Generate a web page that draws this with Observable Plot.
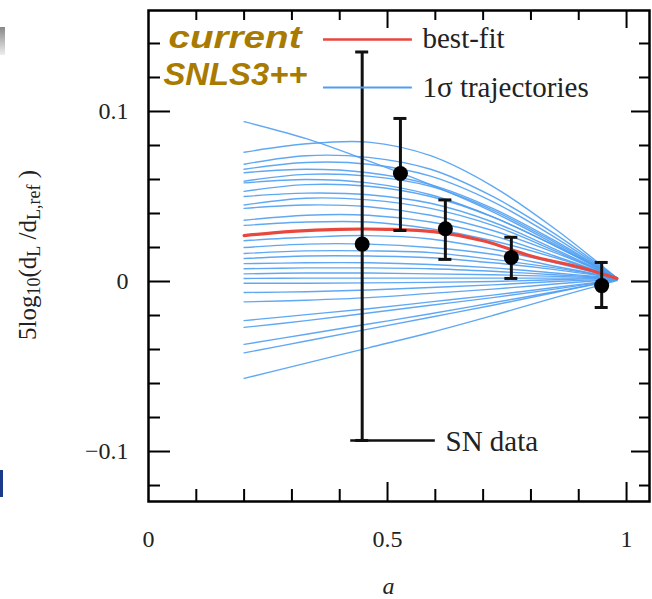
<!DOCTYPE html>
<html>
<head>
<meta charset="utf-8">
<script src="https://cdn.jsdelivr.net/npm/d3@7"></script>
<script src="https://cdn.jsdelivr.net/npm/@observablehq/plot@0.6"></script>
<style>
  html, body { margin: 0; padding: 0; background: #fff; }
  #wrap { position: relative; width: 652px; height: 599px; overflow: hidden; }
  .art1 { position: absolute; left: 0; top: 27px; width: 5px; height: 28px; background: linear-gradient(to bottom, #888, #eee); }
  .art2 { position: absolute; left: 0; top: 470px; width: 3px; height: 27px; background: #1c3a8a; }
</style>
</head>
<body>
<div id="wrap"><div class="art1"></div><div class="art2"></div></div>
<script>
// ---- data ----
const trajA = [0.2, 0.33, 0.46, 0.59, 0.72, 0.85, 0.98];
const trajectories = [
  [0.094, 0.084, 0.071, 0.057, 0.041, 0.022, 0.002],
  [0.076, 0.081, 0.082, 0.074, 0.056, 0.031, 0.002],
  [0.069, 0.074, 0.073, 0.066, 0.050, 0.028, 0.002],
  [0.066, 0.070, 0.069, 0.062, 0.047, 0.026, 0.002],
  [0.064, 0.066, 0.064, 0.057, 0.043, 0.024, 0.002],
  [0.059, 0.063, 0.062, 0.056, 0.042, 0.023, 0.002],
  [0.058, 0.060, 0.058, 0.051, 0.038, 0.021, 0.002],
  [0.053, 0.057, 0.056, 0.050, 0.038, 0.021, 0.002],
  [0.050, 0.052, 0.051, 0.046, 0.035, 0.019, 0.002],
  [0.045, 0.049, 0.048, 0.043, 0.033, 0.018, 0.002],
  [0.043, 0.045, 0.044, 0.039, 0.030, 0.017, 0.002],
  [0.036, 0.039, 0.039, 0.035, 0.027, 0.015, 0.002],
  [0.033, 0.035, 0.035, 0.031, 0.024, 0.014, 0.002],
  [0.024, 0.026, 0.027, 0.025, 0.019, 0.011, 0.002],
  [0.020, 0.022, 0.022, 0.020, 0.016, 0.009, 0.002],
  [0.0165, 0.018, 0.018, 0.017, 0.013, 0.008, 0.002],
  [0.0135, 0.015, 0.015, 0.014, 0.011, 0.007, 0.002],
  [0.0105, 0.011, 0.011, 0.010, 0.008, 0.005, 0.002],
  [0.0075, 0.008, 0.008, 0.0075, 0.006, 0.004, 0.002],
  [0.0045, 0.005, 0.005, 0.0045, 0.004, 0.003, 0.002],
  [0.0018, 0.002, 0.002, 0.002, 0.002, 0.002, 0.002],
  [-0.001, -0.001, -0.0008, -0.0005, 0.0, 0.001, 0.002],
  [-0.0065, -0.006, -0.005, -0.0035, -0.002, 0.0, 0.0015],
  [-0.012, -0.011, -0.0095, -0.007, -0.0045, -0.0015, 0.0015],
  [-0.023, -0.0195, -0.016, -0.012, -0.008, -0.0035, 0.001],
  [-0.027, -0.023, -0.0185, -0.014, -0.0095, -0.0045, 0.001],
  [-0.037, -0.031, -0.025, -0.019, -0.0125, -0.006, 0.001],
  [-0.042, -0.035, -0.028, -0.021, -0.014, -0.0065, 0.001],
  [-0.057, -0.048, -0.039, -0.030, -0.020, -0.0095, 0.0005]
];
const bestFitA = [0.2, 0.3, 0.4, 0.5, 0.6, 0.7, 0.8, 0.9, 0.98];
const bestFitY = [0.027, 0.0295, 0.0307, 0.0307, 0.0292, 0.0240, 0.0150, 0.0085, 0.0018];
const snA  = [0.447, 0.527, 0.621, 0.759, 0.948];
const snY  = [0.022, 0.0635, 0.031, 0.0141, -0.0024];
const snLo = [-0.0935, 0.030, 0.013, 0.0018, -0.0153];
const snHi = [0.135, 0.0959, 0.048, 0.026, 0.0112];
const xTickValues = [0, 0.5, 1];
const xTickLabels = ["0", "0.5", "1"];
const yTickValues = [-0.1, 0, 0.1];
const yTickLabels = ["\u22120.1", "0", "0.1"];
const xMinorTicks = [0.1, 0.2, 0.3, 0.4, 0.6, 0.7, 0.8, 0.9];
const xMajorTicks = [0.5, 1];
const yMinorTicks = [-0.12, -0.08, -0.06, -0.04, -0.02, 0.02, 0.04, 0.06, 0.08, 0.12, 0.14];
const yMajorTicks = [-0.1, 0, 0.1];
const legendLabels = ["best-fit", "1\u03c3 trajectories", "SN data"];
const titleLines = ["current", "SNLS3++"];

// ---- tables built from the arrays ----
const trajRows = trajectories.flatMap((vals, id) => vals.map((v, i) => ({id, a: trajA[i], v})));
const bestRows = bestFitA.map((a, i) => ({a, v: bestFitY[i]}));
const snRows = snA.map((a, i) => ({a, v: snY[i], lo: snLo[i], hi: snHi[i]}));

// ---- layout ----
const W = 652, H = 599;
const mL = 148, mR = 3, mT = 10, mB = 98;
const innerW = W - mL - mR, innerH = H - mT - mB;
const xDomain = [0, 1.048], yDomain = [-0.1294, 0.1594];
const pxPerX = innerW / (xDomain[1] - xDomain[0]);
const capHalf = 6.5 / pxPerX;
const blue = "#4f9ef2", red = "#e8473d", gold = "#a87b00";

const legendY = { best: 0.1424, traj: 0.1141, sn: -0.0935 };
const legendX = [0.366, 0.552];
const snLegendX = [0.423, 0.600];

const legendText = { frameAnchor: "top-left", lineAnchor: "middle", textAnchor: "start", text: d => d, fontSize: 29, fill: "#222" };
const titleText = { frameAnchor: "top-left", lineAnchor: "middle", textAnchor: "start", text: d => d, fontSize: 32, fontWeight: "bold", fontStyle: "italic", fontFamily: "'Liberation Sans', Arial, sans-serif", fill: gold };

const chart = Plot.plot({
  width: W, height: H,
  marginLeft: mL, marginRight: mR, marginTop: mT, marginBottom: mB,
  style: { fontFamily: "'Liberation Serif', 'Times New Roman', serif", fontSize: "24px", background: "white", color: "#222" },
  x: { domain: xDomain, ticks: xTickValues, tickFormat: d => xTickLabels[xTickValues.indexOf(d)], tickSize: 0, tickPadding: 28, label: null },
  y: { domain: yDomain, ticks: yTickValues, tickFormat: d => yTickLabels[yTickValues.indexOf(d)], tickSize: 0, tickPadding: 20, label: null },
  marks: [
    Plot.line(trajRows, { x: "a", y: "v", z: "id", stroke: blue, strokeWidth: 1.4, strokeOpacity: 0.9, curve: "catmull-rom" }),
    Plot.line(bestRows, { x: "a", y: "v", stroke: red, strokeWidth: 3.2, curve: "catmull-rom" }),
    Plot.ruleX(snRows, { x: "a", y1: "lo", y2: "hi", stroke: "#111", strokeWidth: 3 }),
    Plot.ruleY(snRows, { y: "lo", x1: d => d.a - capHalf, x2: d => d.a + capHalf, stroke: "#111", strokeWidth: 3 }),
    Plot.ruleY(snRows, { y: "hi", x1: d => d.a - capHalf, x2: d => d.a + capHalf, stroke: "#111", strokeWidth: 3 }),
    Plot.dot(snRows, { x: "a", y: "v", r: 7.5, fill: "#000" }),
    Plot.ruleY(yMinorTicks, { y: d => d, insetRight: innerW - 12, stroke: "#000", strokeWidth: 2 }),
    Plot.ruleY(yMajorTicks, { y: d => d, insetRight: innerW - 22, stroke: "#000", strokeWidth: 2 }),
    Plot.ruleY(yMinorTicks, { y: d => d, insetLeft: innerW - 10, stroke: "#000", strokeWidth: 2 }),
    Plot.ruleY(yMajorTicks, { y: d => d, insetLeft: innerW - 18, stroke: "#000", strokeWidth: 2 }),
    Plot.ruleX(xMinorTicks, { x: d => d, insetTop: innerH - 12, stroke: "#000", strokeWidth: 2 }),
    Plot.ruleX(xMajorTicks, { x: d => d, insetTop: innerH - 19, stroke: "#000", strokeWidth: 2 }),
    Plot.ruleX(xMinorTicks, { x: d => d, insetBottom: innerH - 10, stroke: "#000", strokeWidth: 2 }),
    Plot.ruleX(xMajorTicks, { x: d => d, insetBottom: innerH - 18, stroke: "#000", strokeWidth: 2 }),
    Plot.frame({ stroke: "#000", strokeWidth: 2.5 }),
    Plot.ruleY([legendY.best], { x1: legendX[0], x2: legendX[1], stroke: red, strokeWidth: 2.5 }),
    Plot.ruleY([legendY.traj], { x1: legendX[0], x2: legendX[1], stroke: blue, strokeWidth: 2 }),
    Plot.ruleY([legendY.sn], { x1: snLegendX[0], x2: snLegendX[1], stroke: "#111", strokeWidth: 2.5 }),
    Plot.text([legendLabels[0]], { ...legendText, dx: 274, dy: 28 }),
    Plot.text([legendLabels[1]], { ...legendText, dx: 274, dy: 77 }),
    Plot.text([legendLabels[2]], { ...legendText, dx: 297, dy: 431 }),
    Plot.text([titleLines[0]], { ...titleText, dx: 20, dy: 27 }),
    Plot.text([titleLines[1]], { ...titleText, dx: 15, dy: 64 }),
    Plot.text(["a"], { frameAnchor: "bottom", lineAnchor: "middle", dx: -10.5, dy: 85, text: d => d, fontSize: 24, fontStyle: "italic", fill: "#222" })
  ]
});

document.getElementById("wrap").appendChild(chart);

const svg = d3.select(chart);
// fit the two title lines to the widths seen in the reference
svg.selectAll("text").each(function () {
  const t = this.textContent;
  if (t === titleLines[0]) d3.select(this).attr("textLength", 133).attr("lengthAdjust", "spacingAndGlyphs");
  if (t === titleLines[1]) d3.select(this).attr("textLength", 144).attr("lengthAdjust", "spacingAndGlyphs");
});

// y-axis label with subscripts
const yl = svg.append("text")
  .attr("transform", "translate(30,255) rotate(-90)")
  .attr("text-anchor", "middle")
  .attr("dominant-baseline", "middle")
  .attr("font-family", "'Liberation Serif', 'Times New Roman', serif")
  .attr("font-size", 25)
  .attr("fill", "#222");
const parts = [
  ["5log", 0, 25], ["10", 6, 18], ["(d", -6, 25], ["L", 6, 18], [" /d", -6, 25], ["L,ref", 6, 18], [" )", -6, 25]
];
parts.forEach(([t, dy, fs]) => yl.append("tspan").attr("dy", dy).attr("font-size", fs).text(t));
</script>
</body>
</html>
